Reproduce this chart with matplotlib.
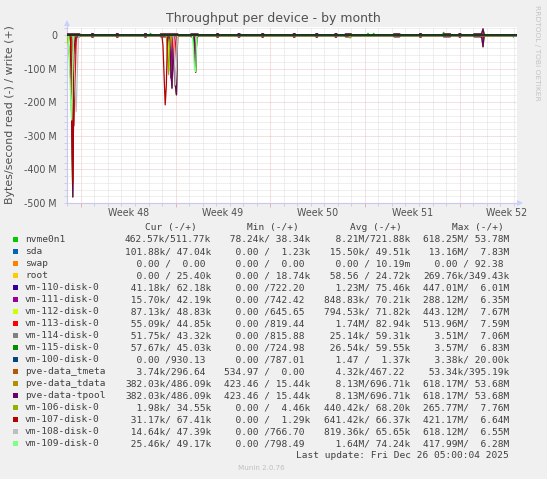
import numpy as np
import matplotlib
matplotlib.use("Agg")
import matplotlib.pyplot as plt
from matplotlib.transforms import blended_transform_factory

# ---------------- data ----------------
names = ["nvme0n1", "sda", "swap", "root", "vm-110-disk-0", "vm-111-disk-0",
         "vm-112-disk-0", "vm-113-disk-0", "vm-114-disk-0", "vm-115-disk-0",
         "vm-100-disk-0", "pve-data_tmeta", "pve-data_tdata", "pve-data-tpool",
         "vm-106-disk-0", "vm-107-disk-0", "vm-108-disk-0", "vm-109-disk-0"]
colors = ["#00CC00", "#0066B3", "#FF8000", "#FFCC00", "#330099", "#990099",
          "#CCFF00", "#FF0000", "#808080", "#008F00", "#00487D", "#B35A00",
          "#B38F00", "#6B006B", "#8FB300", "#B30000", "#BEBEBE", "#80FF80"]
cur = ["462.57k/511.77k", "101.88k/ 47.04k", "  0.00 /  0.00 ", "  0.00 / 25.40k",
       " 41.18k/ 62.18k", " 15.70k/ 42.19k", " 87.13k/ 48.83k", " 55.09k/ 44.85k",
       " 51.75k/ 43.32k", " 57.67k/ 45.03k", "  0.00 /930.13 ", "  3.74k/296.64 ",
       "382.03k/486.09k", "382.03k/486.09k", "  1.98k/ 34.55k", " 31.17k/ 67.41k",
       " 14.64k/ 47.39k", " 25.46k/ 49.17k"]
mins = [" 78.24k/ 38.34k", "  0.00 /  1.23k", "  0.00 /  0.00 ", "  0.00 / 18.74k",
        "  0.00 /722.20 ", "  0.00 /742.42 ", "  0.00 /645.65 ", "  0.00 /819.44 ",
        "  0.00 /815.88 ", "  0.00 /724.98 ", "  0.00 /787.01 ", "534.97 /  0.00 ",
        "423.46 / 15.44k", "423.46 / 15.44k", "  0.00 /  4.46k", "  0.00 /  1.29k",
        "  0.00 /766.70 ", "  0.00 /798.49 "]
avgs = ["  8.21M/721.88k", " 15.50k/ 49.51k", "  0.00 / 10.19m", " 58.56 / 24.72k",
        "  1.23M/ 75.46k", "848.83k/ 70.21k", "794.53k/ 71.82k", "  1.74M/ 82.94k",
        " 25.14k/ 59.31k", " 26.54k/ 59.55k", "  1.47 /  1.37k", "  4.32k/467.22 ",
        "  8.13M/696.71k", "  8.13M/696.71k", "440.42k/ 68.20k", "641.42k/ 66.37k",
        "819.36k/ 65.65k", "  1.64M/ 74.24k"]
maxs = ["618.25M/ 53.78M", " 13.16M/  7.83M", "  0.00 / 92.38 ", "269.76k/349.43k",
        "447.01M/  6.01M", "288.12M/  6.35M", "443.12M/  7.67M", "513.96M/  7.59M",
        "  3.51M/  7.06M", "  3.57M/  6.83M", "  3.38k/ 20.00k", " 53.34k/395.19k",
        "618.17M/ 53.68M", "618.17M/ 53.68M", "265.77M/  7.76M", "421.17M/  6.64M",
        "618.12M/  6.55M", "417.99M/  6.28M"]

# time axis: days since Mon 24 Nov 2025 (start of week 48), 2-hour samples
t_start = -1.1
t_step = 1.0 / 12
n_samples = 400
week_ticks = [0, 7, 14, 21, 28]
week_labels = ["Week 48", "Week 49", "Week 50", "Week 51", "Week 52"]
y_ticks = [-500e6, -400e6, -300e6, -200e6, -100e6, 0]
y_labels = ["-500 M", "-400 M", "-300 M", "-200 M", "-100 M", "0"]

# low-level activity of the thin pool: (from day, to day, read M/s, write M/s)
tpool_spans = [(-1.02, -0.10, 5, 3), (5.90, 7.15, 5, 3), (8.15, 8.65, 5, 3),
               (19.53, 20.02, 5, 3), (23.15, 23.54, 5, 3), (26.80, 27.29, 5, 3),
               (29.07, 29.59, 5, 3),
               (0.82, 0.90, 6, 4), (2.64, 2.72, 6, 4), (4.72, 4.85, 6, 4),
               (10.03, 10.12, 6, 4), (11.64, 11.73, 6, 4), (13.40, 13.52, 6, 4),
               (15.73, 15.82, 6, 4), (17.38, 17.47, 6, 4), (18.79, 18.88, 6, 4),
               (25.08, 25.17, 6, 4), (27.98, 28.07, 6, 4)]
# spikes (day, M/s)
tpool_read = [(-0.683, 250), (-0.6, 482), (-0.517, 120), (-0.433, 20),
              (6.65, 100), (6.733, 158), (6.817, 40), (6.9, 90), (6.983, 150),
              (7.067, 178), (8.483, 111), (29.65, 8), (29.733, 35)]
tpool_write = [(29.65, 6), (29.733, 18)]
nvme_write_extra = [(5.155, 5), (21.25, 5), (21.69, 5), (26.8, 5), (29.82, 5)]

read_events = {
    "sda": [(32.0, 6)],
    "vm-110-disk-0": [(-0.933, 20), (-0.85, 60), (-0.767, 128), (-0.683, 40),
                      (6.567, 60), (6.65, 128), (6.733, 30)],
    "vm-111-disk-0": [(-0.517, 40), (-0.433, 55), (6.733, 150), (6.817, 100),
                      (29.733, 20)],
    "vm-112-disk-0": [(-0.933, 30), (-0.85, 60), (-0.767, 100), (-0.683, 20),
                      (6.483, 60), (6.567, 98), (6.65, 20)],
    "vm-113-disk-0": [(-0.6, 100), (-0.517, 270), (-0.433, 150), (-0.35, 20),
                      (6.817, 60), (6.9, 94), (6.983, 30), (29.733, 10)],
    "vm-115-disk-0": [(8.4, 60), (8.483, 105)],
    "vm-106-disk-0": [(-0.933, 25), (-0.85, 10), (6.4, 60), (6.483, 118),
                      (6.567, 20), (19.9, 9)],
    "vm-107-disk-0": [(-0.683, 200), (-0.6, 440), (-0.517, 60),
                      (6.067, 30), (6.15, 120), (6.233, 208), (6.317, 150), (6.4, 10)],
    "vm-108-disk-0": [(-0.517, 60), (-0.433, 160), (-0.35, 228), (-0.267, 120),
                      (-0.183, 10), (6.9, 40), (6.983, 149), (7.067, 100)],
    "vm-109-disk-0": [(-0.85, 80), (-0.767, 180), (-0.683, 253), (-0.6, 60),
                      (8.317, 40), (8.4, 100), (8.483, 109), (8.567, 5)],
}
write_events = {
    "vm-113-disk-0": [(29.733, 5)],
}

# ---------------- build series ----------------
t = t_start + t_step * np.arange(n_samples)


def idx(day):
    return int(round((day - t_start) / t_step))


def series(events, spans=(), span_col=2):
    v = np.zeros(n_samples)
    for sp in spans:
        a, b = idx(sp[0]), idx(sp[1])
        v[a:b + 1] = sp[span_col]
    for d, val in events:
        v[idx(d)] = val
    return v * 1e6


tp_r = series(tpool_read, tpool_spans, 2)
tp_w = series(tpool_write, tpool_spans, 3)
data = {}
for n in names:
    data[n] = (series(read_events.get(n, [])), series(write_events.get(n, [])))
data["pve-data-tpool"] = (tp_r, tp_w)
data["pve-data_tdata"] = (tp_r, tp_w)
data["nvme0n1"] = (tp_r, tp_w + series(nvme_write_extra))

# ---------------- figure ----------------
W, H = 547, 479
fig = plt.figure(figsize=(W / 100, H / 100), dpi=100, facecolor="#F0F0F0")


def fx(px):
    return px / W


def fy(py):
    return 1 - py / H


ax_l, ax_r, ax_t, ax_b = 66.7, 517.3, 26.7, 203.0
ax = fig.add_axes([fx(ax_l), fy(ax_b), fx(ax_r) - fx(ax_l), fy(ax_t) - fy(ax_b)])
ax.set_facecolor("white")
ax.set_xlim(-1.05, 32.27)
ax.set_ylim(-500e6, 24.7e6)

# grid
ax.set_xticks(week_ticks)
ax.set_xticks(np.arange(-1, 33), minor=True)
ax.set_yticks(y_ticks)
ax.set_yticks(np.arange(-500e6, 24e6, 20e6), minor=True)
ax.set_xticklabels([""] * len(week_ticks))
ax.set_yticklabels(y_labels)
ax.grid(True, which="minor", color="#D4D4D4", lw=0.6, ls=(0, (1, 1.4)))
ax.grid(True, which="major", color="#E8A8A8", lw=0.6, ls=(0, (1, 1.4)))
ax.set_axisbelow(True)
ax.tick_params(axis="both", which="both", length=2, width=0.6, color="#C8C8E8",
               labelsize=6.85, labelcolor="#505050")
ax.tick_params(axis="x", which="major", color="#E8A8A8", length=3)
ax.tick_params(axis="y", which="major", pad=5)
for s in ("top", "right"):
    ax.spines[s].set_visible(False)
for s in ("left", "bottom"):
    ax.spines[s].set_color("#C8C8F0")
    ax.spines[s].set_linewidth(0.8)

trans = blended_transform_factory(ax.transData, fig.transFigure)
for d, lab in zip(week_ticks, week_labels):
    ax.text(d + 3.5, fy(212.5), lab, transform=trans, ha="center", va="center",
            fontsize=6.85, color="#505050")

# axis arrows
fig.add_artist(plt.Line2D([fx(ax_l), fx(ax_l)], [fy(ax_t), fy(23)], color="#C8C8F0", lw=0.8))
fig.add_artist(plt.Line2D([fx(ax_r), fx(520)], [fy(ax_b), fy(ax_b)], color="#C8C8F0", lw=0.8))
fig.add_artist(plt.Line2D([fx(ax_l)], [fy(23)], marker="^", color="#C8D0FF", ms=4, mew=0))
fig.add_artist(plt.Line2D([fx(520)], [fy(ax_b)], marker=">", color="#C8D0FF", ms=4, mew=0))

# data and zero line
for n, c in zip(names, colors):
    r, w = data[n]
    ax.plot(t, -r, color=c, lw=0.9, zorder=3)
    ax.plot(t, w, color=c, lw=0.9, zorder=3)
ax.axhline(0, color="black", lw=1.1, zorder=4)

# texts
fig.text(fx(273), fy(18.5), "Throughput per device - by month", ha="center", va="center",
         fontsize=9.0, color="#505050")
fig.text(fx(10), fy(115), "Bytes/second read (-) / write (+)", rotation=90,
         ha="center", va="center", fontsize=7.9, color="#505050")
fig.text(fx(536.5), fy(5), "RRDTOOL / TOBI OETIKER", rotation=270, ha="center",
         va="top", fontsize=5.4, color="#C4C4C4")
fig.text(fx(261), fy(468), "Munin 2.0.76", ha="center", va="center", fontsize=5.1,
         color="#C0C0C0")

mono = "DejaVu Sans Mono"
fs = 6.83
col_start = [125.0, 224.3, 323.6, 423.3]
head_x = [145, 247, 349.7, 452]
heads = ["Cur (-/+)", "Min (-/+)", "Avg (-/+)", "Max (-/+)"]
for hx, hd in zip(head_x, heads):
    fig.text(fx(hx), fy(227.7), hd, family=mono, fontsize=fs, color="#404040",
             ha="left", va="center")
row0, dy = 239.5, 12.02
for i, n in enumerate(names):
    y = row0 + i * dy
    fig.add_artist(plt.Rectangle((fx(13.3), fy(y + 2.5)), fx(5), 5 / H,
                                 facecolor=colors[i], edgecolor="none"))
    fig.text(fx(25), fy(y), n, family=mono, fontsize=fs, color="#404040",
             ha="left", va="center")
    for cx, s in zip(col_start, (cur[i], mins[i], avgs[i], maxs[i])):
        fig.text(fx(cx), fy(y), s, family=mono, fontsize=fs, color="#404040",
                 ha="left", va="center")
fig.text(fx(509), fy(row0 + 18 * dy), "Last update: Fri Dec 26 05:00:04 2025",
         family=mono, fontsize=fs, color="#404040", ha="right", va="center")

fig.savefig("out.png", dpi=100, facecolor=fig.get_facecolor())
